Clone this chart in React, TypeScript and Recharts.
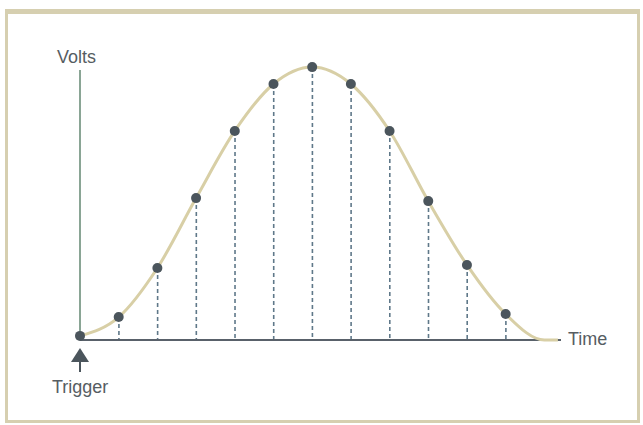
import React from "react";
import { ComposedChart, Line, Bar, XAxis, YAxis, ReferenceLine } from "recharts";

// sample instants (one per dashed line) and the volts
const sampleTimes = [0, 1, 2, 3, 4, 5, 6, 7, 8, 9, 10, 11];
const sampleVolts = [1.5, 8.4, 26.4, 52, 76.6, 93.8, 100, 93.8, 76.6, 50.9, 27.5, 9.5];
// the continuous waveform runs a little past the last sample
const tailTimes = [12, 12.35];
const tailVolts = [0, 0];

const data = [
  ...sampleTimes.map((t, i) => ({ t, curve: sampleVolts[i], sample: sampleVolts[i] })),
  ...tailTimes.map((t, i) => ({ t, curve: tailVolts[i], sample: undefined as number | undefined })),
];

const textColor = "#565d62";

// dashed drop line from a sample down to the time axis
const DropLine = (props: any) => {
  const { x, y, width, height } = props;
  if (height == null || height < 6) return null;
  const cx = x + width / 2;
  return (
    <line x1={cx} x2={cx} y1={y} y2={y + height} stroke="#5f7889" strokeWidth={1.6} strokeDasharray="4 3" />
  );
};

export default function App() {
  return (
    <div style={{ position: "absolute", left: 0, top: 0, width: 643, height: 425, background: "#fff" }}>
      {/* beige frame */}
      <div
        style={{
          position: "absolute",
          left: 5,
          top: 9,
          width: 636 - 7,
          height: 414 - 8,
          borderStyle: "solid",
          borderColor: "#d6cfb0",
          borderWidth: "5px 3px 3px 3px",
        }}
      />
      <ComposedChart
        width={643}
        height={425}
        data={data}
        margin={{ top: 60, left: 80, right: 82, bottom: 85 }}
        style={{ position: "absolute", left: 0, top: 0 }}
      >
        <XAxis type="number" dataKey="t" domain={[0, 12.43]} hide />
        <YAxis type="number" domain={[0, 102.6]} hide />
        <ReferenceLine y={0} stroke="#59616a" strokeWidth={2} />
        <ReferenceLine
          segment={[
            { x: 0, y: 0 },
            { x: 0, y: 98.9 },
          ]}
          stroke="#8aa595"
          strokeWidth={2}
        />
        <Line
          dataKey="curve"
          type="monotone"
          stroke="#d8cfa6"
          strokeWidth={3}
          dot={false}
          isAnimationActive={false}
        />
        <Bar dataKey="sample" barSize={2} shape={DropLine} isAnimationActive={false} />
        <Line
          dataKey="sample"
          stroke="none"
          dot={{ r: 5, fill: "#4b555c", stroke: "none" }}
          activeDot={false}
          isAnimationActive={false}
        />
      </ComposedChart>
      <svg width={643} height={425} style={{ position: "absolute", left: 0, top: 0, pointerEvents: "none" }}>
        <g fontFamily="'Liberation Sans', Arial, sans-serif" fontSize={18} fill={textColor}>
          <text x={57} y={63}>Volts</text>
          <text x={568} y={345}>Time</text>
          <text x={52} y={393}>Trigger</text>
        </g>
        {/* trigger arrow */}
        <path d="M80 348 L89 362 L71 362 Z" fill="#4b555c" />
        <line x1={80} x2={80} y1={360} y2={372} stroke="#4b555c" strokeWidth={2} />
      </svg>
    </div>
  );
}
